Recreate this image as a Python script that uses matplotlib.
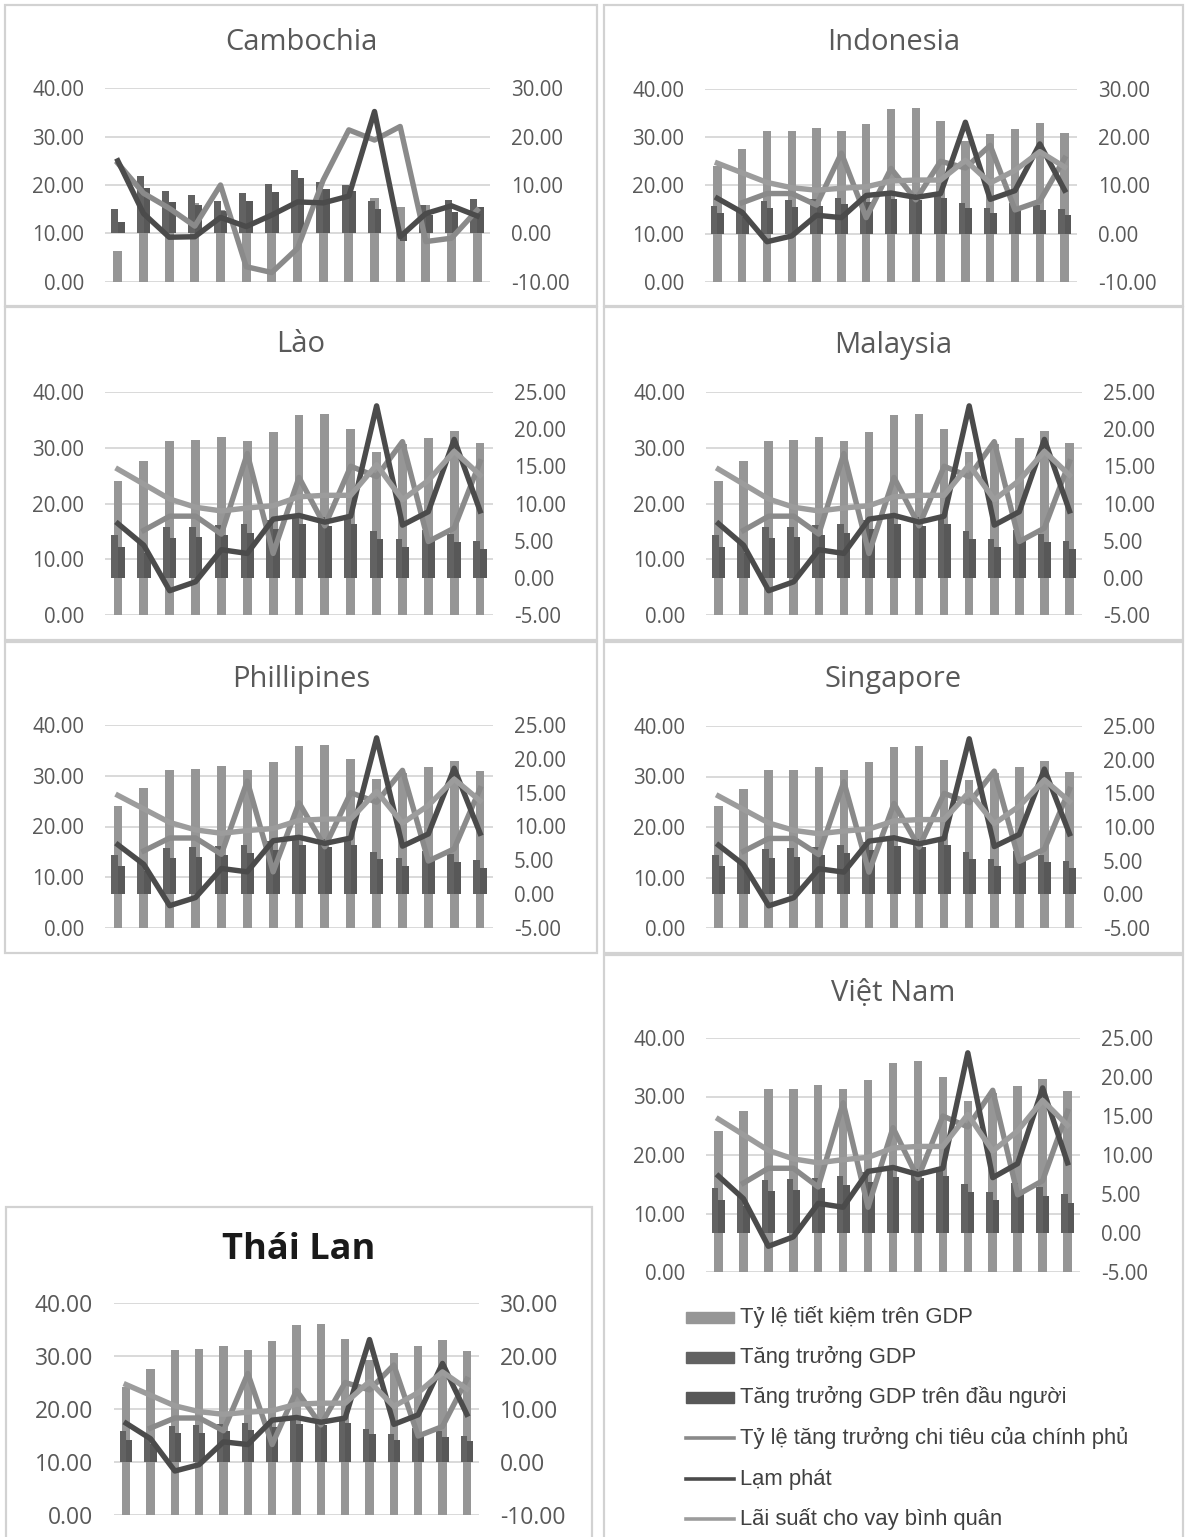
import numpy as np
import matplotlib
matplotlib.use("Agg")
import matplotlib.pyplot as plt
from matplotlib.patches import Rectangle
from matplotlib.lines import Line2D
from matplotlib.ticker import FormatStrFormatter, MultipleLocator

W, H = 1186, 1537
nan = np.nan

years = list(range(1998, 2013))

# Campuchia
kh_savings = [6.3, 11.5, 12.0, 16.2, 14.8, 15.2, 13.5, 13.6, 17.0, 18.0, 17.4, 15.5, 15.8, 14.0, 14.5]
kh_gdp = [5.0, 11.9, 8.8, 8.0, 6.6, 8.4, 10.3, 13.2, 10.7, 10.1, 6.7, 0.1, 5.9, 7.0, 7.2]
kh_gdp_pc = [2.4, 9.3, 6.4, 5.9, 4.7, 6.6, 8.5, 11.5, 9.1, 8.7, 5.0, -1.5, 3.8, 4.5, 5.4]
kh_gov = [14.5, 8.3, 5.2, 1.5, 10.0, -6.9, -8.1, -3.1, 11.0, 21.4, 19.3, 22.1, -1.7, -1.0, 4.8]
kh_inflation = [15.0, 4.1, -0.8, -0.7, 3.3, 1.4, 3.8, 6.5, 6.3, 7.7, 25.2, -0.7, 4.1, 5.7, 3.6]
kh_lending = [nan] * 15

# cac nuoc con lai dung chung bo so lieu
savings = [24.1, 27.6, 31.2, 31.3, 31.9, 31.2, 32.8, 35.8, 36.0, 33.3, 29.3, 30.6, 31.8, 33.0, 30.9]
gdp = [5.8, 4.8, 6.8, 6.9, 7.1, 7.3, 7.8, 8.4, 8.2, 8.5, 6.3, 5.3, 6.4, 5.9, 5.0]
gdp_pc = [4.2, 3.4, 5.4, 5.5, 5.8, 6.1, 6.6, 7.2, 7.0, 7.3, 5.2, 4.2, 5.3, 4.8, 3.9]
gov = [nan, 6.4, 8.3, 8.3, 5.9, 16.7, 3.3, 13.5, 7.0, 15.0, 13.6, 18.3, 4.9, 6.7, 15.6]
inflation = [7.3, 4.4, -1.7, -0.5, 3.8, 3.3, 7.9, 8.4, 7.5, 8.3, 23.1, 7.1, 8.9, 18.6, 9.0]
lending = [14.6, 12.6, 10.6, 9.5, 9.0, 9.4, 9.7, 10.9, 11.1, 11.1, 15.2, 10.5, 13.1, 17.0, 13.8]

labels = ["Tỷ lệ tiết kiệm trên GDP", "Tăng trưởng GDP", "Tăng trưởng GDP trên đầu người",
          "Tỷ lệ tăng trưởng chi tiêu của chính phủ", "Lạm phát", "Lãi suất cho vay bình quân"]

c_save = '#969696'
c_gdp = '#626262'
c_gdp_pc = '#585858'
c_gov = '#8a8a8a'
c_infl = '#4b4b4b'
c_lend = '#9c9c9c'
c_text = '#595959'

plt.rcParams['axes.unicode_minus'] = False
plt.rcParams['font.family'] = ['Open Sans', 'DejaVu Sans']

fig = plt.figure(figsize=(W / 100, H / 100), dpi=100)


def fx(x):
    return x / W


def fy(y):
    return 1 - y / H


def frame(x0, y0, x1, y1):
    fig.add_artist(Rectangle((fx(x0), fy(y1)), (x1 - x0) / W, (y1 - y0) / H,
                             transform=fig.transFigure, fill=False,
                             edgecolor='#d2d2d2', lw=1.6))


def panel(title, box, plot, sec_lim, sec_step, data, bold=False):
    frame(*box)
    x0, y0, x1, y1 = plot
    ax = fig.add_axes([fx(x0), fy(y1), (x1 - x0) / W, (y1 - y0) / H])
    ax2 = ax.twinx()
    sv, g, gp, gv, inf, ld = data
    x = np.arange(len(years))

    ax.bar(x, sv, width=0.34, color=c_save, zorder=2)
    ax.set_ylim(0, 40)
    ax.yaxis.set_major_locator(MultipleLocator(10))
    ax.yaxis.set_major_formatter(FormatStrFormatter('%.2f'))
    ax.yaxis.grid(True, color='#d9d9d9', lw=1.4, zorder=0)
    ax.set_axisbelow(True)

    ax2.bar(x - 0.13, g, width=0.26, color=c_gdp, zorder=2)
    ax2.bar(x + 0.13, gp, width=0.26, color=c_gdp_pc, zorder=2)
    ax2.plot(x, gv, color=c_gov, lw=3.9, solid_joinstyle='round', zorder=3)
    ax2.plot(x, inf, color=c_infl, lw=3.9, solid_joinstyle='round', zorder=4)
    ax2.plot(x, ld, color=c_lend, lw=3.9, solid_joinstyle='round', zorder=5)
    ax2.set_ylim(*sec_lim)
    ax2.yaxis.set_major_locator(MultipleLocator(sec_step))
    ax2.yaxis.set_major_formatter(FormatStrFormatter('%.2f'))

    size = 16.5 if bold else 14.8
    for a in (ax, ax2):
        a.set_xlim(-0.5, len(years) - 0.5)
        a.set_xticks([])
        for s in a.spines.values():
            s.set_visible(False)
        a.tick_params(axis='y', length=0, labelsize=size, labelcolor=c_text, pad=15)

    cx = (box[0] + box[2]) / 2
    if bold:
        fig.text(fx(cx), fy(box[1] + 43), title, ha='center', va='center',
                 fontsize=26, fontweight='bold', color='#1a1a1a')
    else:
        fig.text(fx(cx), fy(box[1] + 38), title, ha='center', va='center',
                 fontsize=21, color=c_text)


kh = (kh_savings, kh_gdp, kh_gdp_pc, kh_gov, kh_inflation, kh_lending)
common = (savings, gdp, gdp_pc, gov, inflation, lending)

panel("Cambochia", (5, 5, 597, 306), (105, 88.3, 490, 281.7), (-10, 30), 10, kh)
panel("Indonesia", (604, 5, 1183, 306), (705, 89, 1077, 281.7), (-10, 30), 10, common)
panel("Lào", (5, 307, 597, 640), (105, 391.7, 493, 615.3), (-5, 25), 5, common)
panel("Malaysia", (604, 307, 1183, 640), (706, 391.7, 1082, 615.3), (-5, 25), 5, common)
panel("Phillipines", (5, 642, 597, 953), (105, 725, 493, 928), (-5, 25), 5, common)
panel("Singapore", (604, 642, 1183, 953), (706, 726, 1082, 928), (-5, 25), 5, common)
panel("Việt Nam", (604, 955, 1183, 1540), (706, 1038, 1080, 1272), (-5, 25), 5, common)
panel("Thái Lan", (6, 1207, 592, 1540), (114, 1303, 479, 1515), (-10, 30), 10, common, bold=True)

# chu giai trong khung Viet Nam
styles = [('bar', c_save), ('bar', c_gdp), ('bar', c_gdp_pc),
          ('line', c_gov), ('line', c_infl), ('line', c_lend)]
ys = [1317, 1357, 1397, 1438, 1479, 1519]
for (kind, col), lab, yy in zip(styles, labels, ys):
    if kind == 'bar':
        fig.add_artist(Rectangle((fx(686), fy(yy + 5.5)), 48 / W, 11 / H,
                                 transform=fig.transFigure, color=col))
    else:
        fig.add_artist(Line2D([fx(686), fx(734)], [fy(yy), fy(yy)],
                              transform=fig.transFigure, color=col, lw=2.6))
    fig.text(fx(740), fy(yy), lab, ha='left', va='center', fontsize=15.8,
             color='#404040', family=['Liberation Sans', 'DejaVu Sans'])

fig.savefig("out.png", dpi=100, facecolor='white')
